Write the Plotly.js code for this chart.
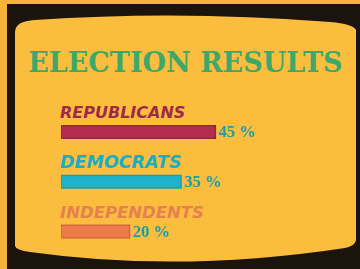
<!DOCTYPE html>
<html>
<head>
<meta charset="utf-8">
<script src="https://cdn.plot.ly/plotly-3.0.1.min.js"></script>
<style>html,body{margin:0;padding:0;background:#f5b13a;}#chart{width:360px;height:269px;}</style>
</head>
<body>
<div id="chart"></div>
<script>
// ---- data ----
const categories = ['REPUBLICANS', 'DEMOCRATS', 'INDEPENDENTS'];
const shares = [45, 35, 20];
const shareLabels = ['45 %', '35 %', '20 %'];
const barColors = ['#b52d4c', '#1db4cb', '#ec7b49'];
const barEdgeColors = ['#8c2a3c', '#169fb4', '#d5683f'];
const labelColors = ['#9e2a4a', '#17afc6', '#e6804f'];
const labelSizes = [16, 17.5, 16.5];
const chartTitle = 'ELECTION RESULTS';

// ---- geometry helpers (pixel -> paper) ----
const W = 360, H = 269;
const px = x => (x / W).toFixed(4);
const py = y => (1 - y / H).toFixed(4);
function pathFromPixels(cmds) {
  return cmds.map(c => {
    const [op, ...pts] = c;
    const out = [];
    for (let i = 0; i < pts.length; i += 2) out.push(px(pts[i]) + ',' + py(pts[i + 1]));
    return op + ' ' + out.join(' ');
  }).join(' ') + ' Z';
}
const screenPath = pathFromPixels([
  ['M', 15, 32],
  ['Q', 15, 21, 35, 20],
  ['Q', 180, 10, 330, 22],
  ['Q', 353, 24, 356, 30],
  ['L', 356, 240],
  ['Q', 355, 246, 345, 248],
  ['Q', 180, 273, 30, 252],
  ['Q', 16, 250, 15, 246]
]);

const barStart = 61;          // px
const pxPerUnit = 3.43;
const xMax = (W - barStart) / pxPerUnit;

const trace = {
  type: 'bar',
  orientation: 'h',
  y: categories,
  x: shares,
  width: 0.25,
  marker: { color: barColors, line: { color: barEdgeColors, width: 1.5 } },
  text: shareLabels,
  textposition: 'outside',
  constraintext: 'none',
  cliponaxis: false,
  textfont: { family: 'Liberation Serif', size: 16.5, weight: 'bold', color: '#1a9faa' },
  hoverinfo: 'skip'
};

const annotations = categories.map((c, i) => ({
  x: 0, xref: 'x', y: c, yref: 'y',
  xanchor: 'left', yanchor: 'middle', yshift: 19.5, xshift: -2,
  showarrow: false, borderpad: 0,
  text: c,
  font: { family: 'DejaVu Sans', size: labelSizes[i], weight: 'bold', style: 'italic', color: labelColors[i] }
}));

const layout = {
  width: W, height: H,
  margin: { l: 0, r: 0, t: 0, b: 0 },
  paper_bgcolor: '#f5b13a',
  plot_bgcolor: 'rgba(0,0,0,0)',
  showlegend: false,
  title: {
    text: chartTitle,
    xref: 'container', yref: 'container',
    x: 0.515, y: 1 - 63 / H, xanchor: 'center', yanchor: 'middle',
    font: { family: 'DejaVu Serif', size: 27, weight: 'bold', color: '#3ea869' }
  },
  xaxis: {
    domain: [barStart / W, 1], range: [0, xMax],
    showgrid: false, zeroline: false, showticklabels: false, showline: false, ticks: '', fixedrange: true
  },
  yaxis: {
    domain: [1 - 256.5 / H, 1 - 107 / H], range: [2.5, -0.5],
    showgrid: false, zeroline: false, showticklabels: false, showline: false, ticks: '', fixedrange: true
  },
  shapes: [
    { type: 'rect', xref: 'paper', yref: 'paper', x0: 7 / W, x1: 1, y0: 0, y1: 1 - 4 / H,
      fillcolor: '#1b140c', line: { width: 0 }, layer: 'below' },
    { type: 'path', xref: 'paper', yref: 'paper', path: screenPath,
      fillcolor: '#fbbd3e', line: { width: 0 }, layer: 'below' }
  ],
  annotations: annotations
};

Plotly.newPlot('chart', [trace], layout, { staticPlot: true, displayModeBar: false });
</script>
</body>
</html>
